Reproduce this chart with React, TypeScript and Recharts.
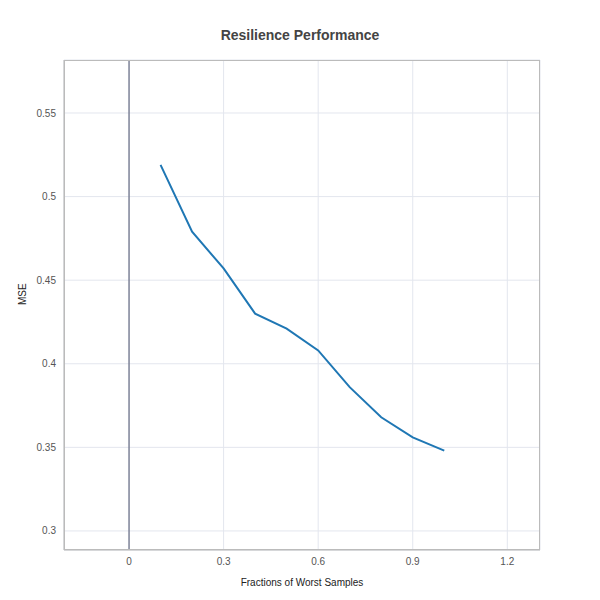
import { LineChart, Line, XAxis, YAxis, CartesianGrid, ReferenceLine } from 'recharts';

const fractions = [0.1, 0.2, 0.3, 0.4, 0.5, 0.6, 0.7, 0.8, 0.9, 1.0];
const mse = [0.519, 0.479, 0.457, 0.430, 0.421, 0.408, 0.386, 0.368, 0.356, 0.348];
const xTicks = [0, 0.3, 0.6, 0.9, 1.2];
const yTicks = [0.3, 0.35, 0.4, 0.45, 0.5, 0.55];

const data = fractions.map((f, i) => ({ f, mse: mse[i] }));

export default function App() {
  return (
    <div style={{ position: 'absolute', left: 0, top: 0, width: 600, height: 600, background: '#fff', fontFamily: 'Arial, "Liberation Sans", sans-serif' }}>
      <div style={{ position: 'absolute', top: 27, width: 600, textAlign: 'center', fontSize: 14, fontWeight: 'bold', color: '#444' }}>
        Resilience Performance
      </div>
      <LineChart width={600} height={600} data={data} margin={{ top: 60, right: 60, bottom: 0, left: 0 }}>
        <CartesianGrid stroke="#e3e6ee" vertical horizontal />
        <XAxis
          type="number"
          dataKey="f"
          domain={[-0.2063, 1.3037]}
          ticks={xTicks}
          height={50}
          tick={{ fontSize: 10, fill: '#555' }}
          tickLine={false}
          axisLine={{ stroke: '#bbb' }}
          label={{ value: 'Fractions of Worst Samples', position: 'insideBottom', offset: 14, fontSize: 10, fill: '#222' }}
        />
        <YAxis
          type="number"
          domain={[0.2886, 0.5817]}
          ticks={yTicks}
          width={64}
          tick={{ fontSize: 10, fill: '#555' }}
          tickLine={false}
          axisLine={{ stroke: '#bbb' }}
          tickFormatter={(v) => String(v)}
          label={{ value: 'MSE', angle: -90, position: 'insideLeft', offset: 22, fontSize: 10, fill: '#222' }}
        />
        <ReferenceLine x={0} stroke="#4a4f6c" strokeWidth={1} />
        <Line type="linear" dataKey="mse" stroke="#1f77b4" strokeWidth={2} dot={false} isAnimationActive={false} />
      </LineChart>
      <div style={{ position: 'absolute', left: 64, top: 60, width: 476, height: 490, border: '1px solid #bbb', boxSizing: 'border-box', pointerEvents: 'none' }} />
    </div>
  );
}
